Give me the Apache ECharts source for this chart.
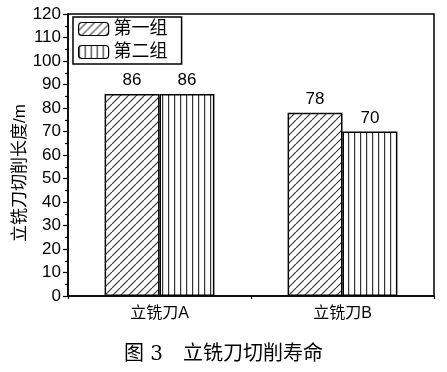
<!DOCTYPE html>
<html><head><meta charset="utf-8">
<script src="https://cdn.jsdelivr.net/npm/echarts@6/dist/echarts.min.js"></script>
<style>html,body{margin:0;padding:0;background:#fff}#c{width:447px;height:372px}</style>
</head><body><div id="c"></div>
<script>
const categories = ['立铣刀A', '立铣刀B'];
const group1 = [86, 78];
const group2 = [86, 70];
const seriesNames = ['第一组', '第二组'];
const yTicks = [0, 10, 20, 30, 40, 50, 60, 70, 80, 90, 100, 110, 120];
const yName = '立铣刀切削长度/m';

function hatch() {
  const c = document.createElement('canvas'); c.width = 8; c.height = 8;
  const g = c.getContext('2d'); g.fillStyle = '#fff'; g.fillRect(0,0,8,8);
  g.strokeStyle = '#333'; g.lineWidth = 1.1;
  for (const o of [-8, 0, 8]) { g.beginPath(); g.moveTo(o, 8); g.lineTo(o + 8, 0); g.stroke(); }
  return c;
}
function vlines() {
  const c = document.createElement('canvas'); c.width = 6; c.height = 6;
  const g = c.getContext('2d'); g.fillStyle = '#fff'; g.fillRect(0,0,6,6);
  g.fillStyle = '#333'; g.fillRect(0, 0, 1.2, 6);
  return c;
}
const font = "'Liberation Sans','Noto Sans CJK SC',sans-serif";
const chart = echarts.init(document.getElementById('c'));
const lbl = {show: true, position: 'top', color: '#000', fontSize: 17, fontFamily: font, distance: 5};
chart.setOption({
  animation: false,
  grid: {left: 68, right: 13, top: 14, bottom: 76, show: true, borderColor: '#000', borderWidth: 1.5},
  title: {text: '图 3\u3000立铣刀切削寿命', left: 'center', top: 340,
    textStyle: {fontSize: 20, fontWeight: 'normal', color: '#000', fontFamily: "'DejaVu Serif','Noto Sans CJK SC',serif"}},
  graphic: [{
    type: 'text', x: 20, y: 173, rotation: Math.PI / 2,
    style: {text: yName, fontSize: 17, fill: '#000', fontFamily: font, align: 'center', verticalAlign: 'middle'}
  }],
  legend: {
    orient: 'vertical', left: 73, top: 17, itemWidth: 30, itemHeight: 13, itemGap: 5,
    padding: [3, 14, 3, 5], borderColor: '#000', borderWidth: 1.5,
    textStyle: {fontSize: 18, color: '#000', fontFamily: font},
    data: seriesNames, itemStyle: {borderColor: '#000', borderWidth: 1.2}
  },
  xAxis: [{
    type: 'category', data: categories,
    axisLine: {lineStyle: {color: '#000', width: 1.5}},
    axisTick: {alignWithLabel: true, length: 6, lineStyle: {color: '#000', width: 1.2}},
    axisLabel: {fontSize: 16, color: '#000', fontFamily: font, margin: 10}
  }, {
    type: 'category', data: categories, position: 'bottom', gridIndex: 0,
    axisLine: {show: false}, axisLabel: {show: false},
    axisTick: {show: true, length: 3, lineStyle: {color: '#000', width: 1.2}}
  }],
  yAxis: {
    type: 'value', min: yTicks[0], max: yTicks[yTicks.length - 1], interval: 10,
    axisLine: {show: true, lineStyle: {color: '#000', width: 1.5}},
    axisTick: {show: true, length: 5, lineStyle: {color: '#000', width: 1.2}},
    minorTick: {show: true, splitNumber: 2, length: 3, lineStyle: {color: '#000', width: 1.2}},
    splitLine: {show: false},
    axisLabel: {fontSize: 17, color: '#000', fontFamily: font, margin: 7}
  },
  series: [
    {name: seriesNames[0], type: 'bar', data: group1, barWidth: '30%', barGap: '0%',
     itemStyle: {color: {image: hatch(), repeat: 'repeat'}, borderColor: '#000', borderWidth: 1.5}, label: lbl},
    {name: seriesNames[1], type: 'bar', data: group2, barWidth: '30%', barGap: '0%',
     itemStyle: {color: {image: vlines(), repeat: 'repeat'}, borderColor: '#000', borderWidth: 1.5}, label: lbl}
  ]
});
</script></body></html>
